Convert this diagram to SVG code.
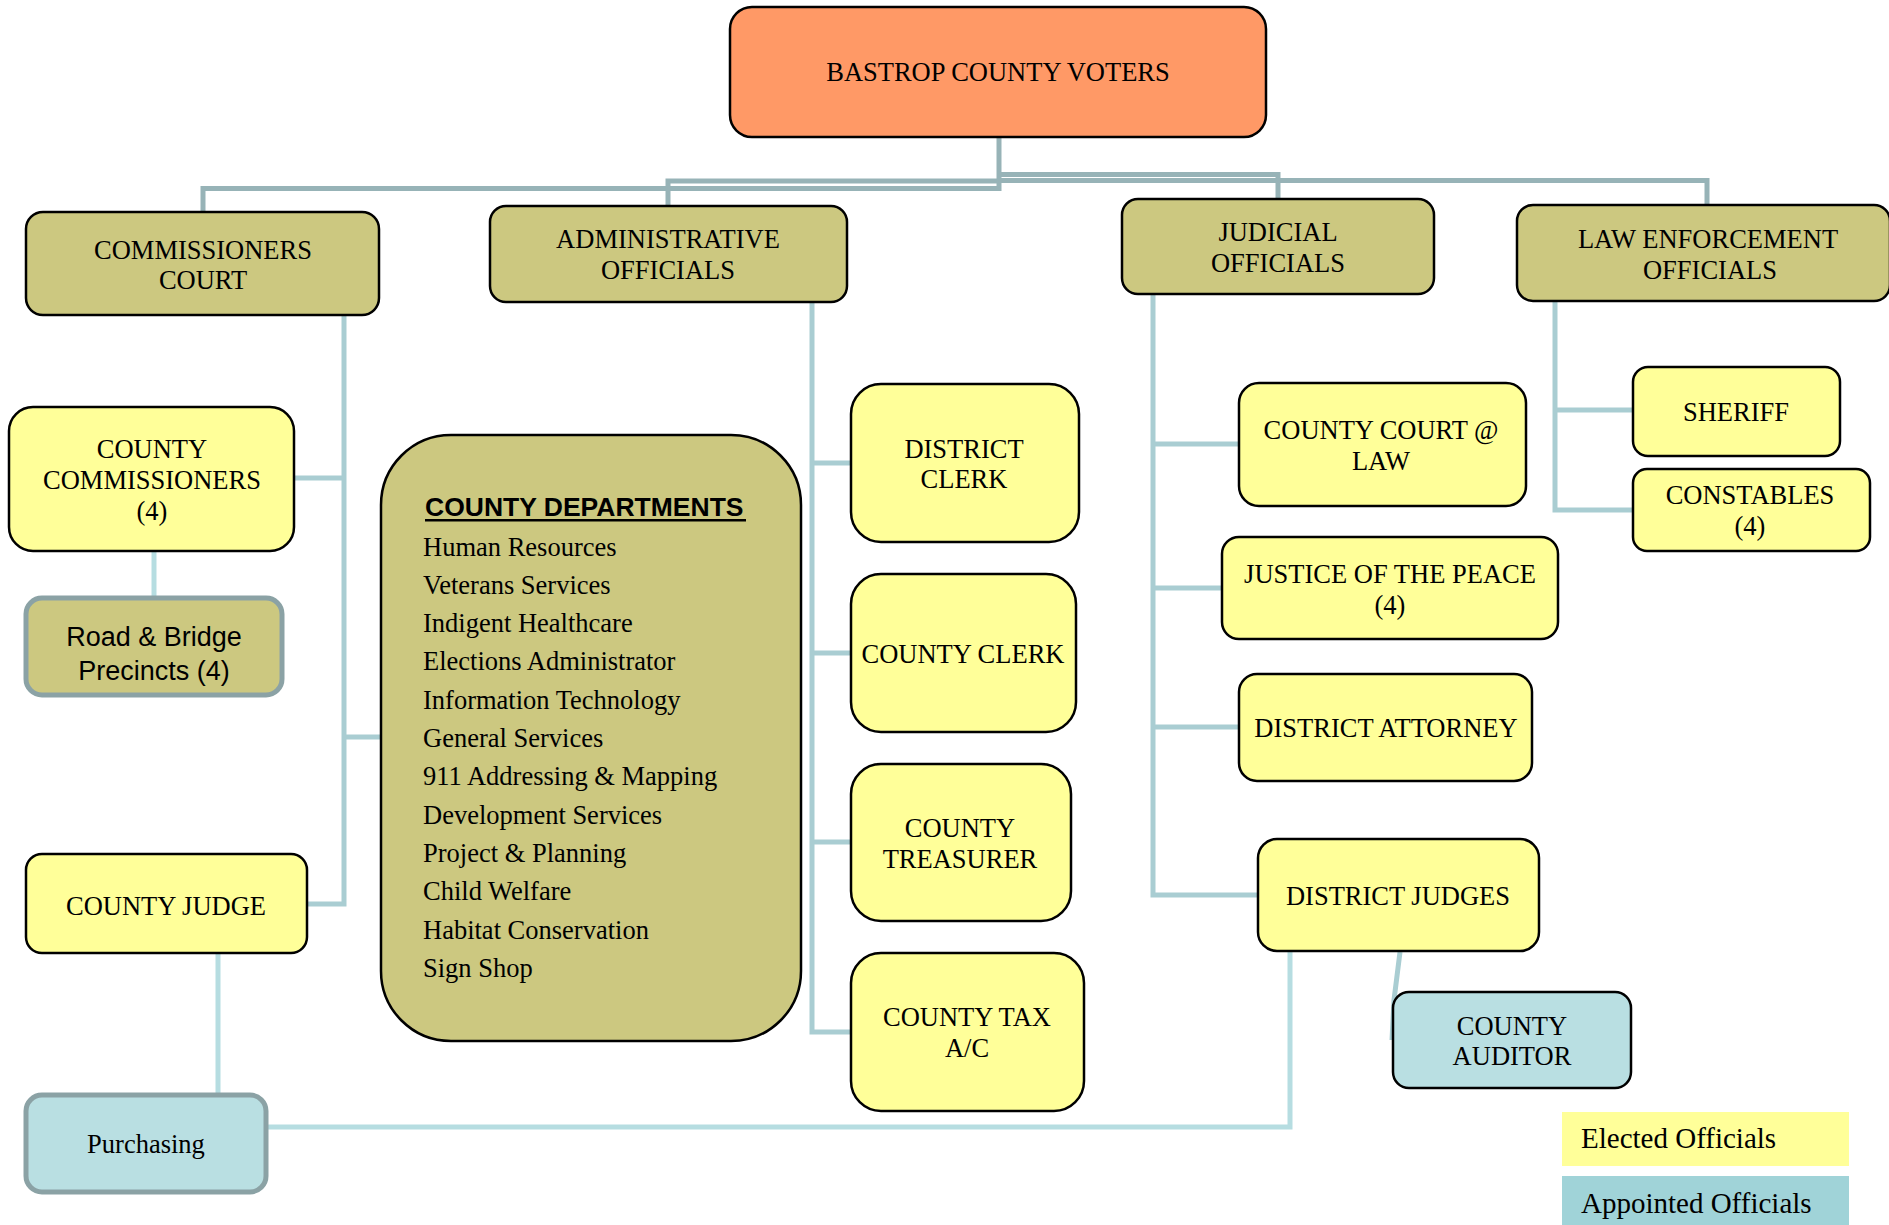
<svg xmlns="http://www.w3.org/2000/svg" width="1889" height="1225" viewBox="0 0 1889 1225">
<style>
.t{font-family:"Liberation Serif","Times New Roman",serif;font-size:26.5px;fill:#000;text-anchor:middle}
.l{font-family:"Liberation Serif","Times New Roman",serif;font-size:26.5px;fill:#000}
.a{font-family:"Liberation Sans",Arial,sans-serif;font-size:27px;fill:#000;text-anchor:middle}
.h{font-family:"Liberation Sans",Arial,sans-serif;font-size:26.5px;font-weight:bold;fill:#000}
.lg{font-family:"Liberation Serif","Times New Roman",serif;font-size:29px;fill:#000}
.y{fill:#FFFF99;stroke:#000;stroke-width:2.5}
.o{fill:#CCC880;stroke:#000;stroke-width:2.5}
.b{fill:#B9DFE2;stroke:#000;stroke-width:2.5}
.top{fill:none;stroke:#97B3B7;stroke-width:5}
.c{fill:none;stroke:#A9CDD2;stroke-width:5}
.c2{fill:none;stroke:#B6DDE1;stroke-width:5}
</style>
<rect width="1889" height="1225" fill="#fff"/>
<g id="connectors">
<path class="top" d="M999,137 V191"/>
<path class="top" d="M203,213 V188.5 H999"/>
<path class="top" d="M668,206 V181 H999"/>
<path class="top" d="M999,174.5 H1278 V199"/>
<path class="top" d="M999,180.5 H1707 V206"/>
<path class="c" d="M344,315 V904 H307"/>
<path class="c" d="M294,478 H344"/>
<path class="c" d="M344,737 H381"/>
<path class="c2" d="M154,551 V598"/>
<path class="c" d="M812,302 V1032 H851"/>
<path class="c" d="M812,463 H851"/>
<path class="c" d="M812,653 H851"/>
<path class="c" d="M812,842 H851"/>
<path class="c" d="M1153,294 V895 H1258"/>
<path class="c" d="M1153,444 H1239"/>
<path class="c" d="M1153,588 H1222"/>
<path class="c" d="M1153,727 H1239"/>
<path class="c" d="M1555,302 V510 H1633"/>
<path class="c" d="M1555,410 H1633"/>
<path class="c2" d="M218,953 V1095"/>
<path class="c2" d="M266,1127 H1290 V952"/>
<path class="c" d="M1400,952 L1394,1000 L1392,1040"/>
</g>
<g id="voters"><rect x="730" y="7" width="536" height="130" rx="22" fill="#FF9966" stroke="#000" stroke-width="2.5"/><text class="t" x="998" y="81">BASTROP COUNTY VOTERS</text></g>
<g id="commissioners-court"><rect class="o" x="26" y="212" width="353" height="103" rx="17"/><text class="t" x="203" y="259">COMMISSIONERS</text><text class="t" x="203" y="289">COURT</text></g>
<g id="administrative-officials"><rect class="o" x="490" y="206" width="357" height="96" rx="16"/><text class="t" x="668" y="248">ADMINISTRATIVE</text><text class="t" x="668" y="279">OFFICIALS</text></g>
<g id="judicial-officials"><rect class="o" x="1122" y="199" width="312" height="95" rx="16"/><text class="t" x="1278" y="241">JUDICIAL</text><text class="t" x="1278" y="272">OFFICIALS</text></g>
<g id="law-enforcement-officials"><rect class="o" x="1517" y="205" width="373" height="96" rx="16"/><text class="t" x="1708" y="248">LAW ENFORCEMENT</text><text class="t" x="1710" y="279">OFFICIALS</text></g>
<g id="county-commissioners"><rect class="y" x="9" y="407" width="285" height="144" rx="24"/><text class="t" x="152" y="458">COUNTY</text><text class="t" x="152" y="489">COMMISSIONERS</text><text class="t" x="152" y="520">(4)</text></g>
<g id="road-bridge"><rect x="26" y="598" width="256" height="97" rx="16" fill="#CCC880" stroke="#8BA2A5" stroke-width="5"/><text class="a" x="154" y="646">Road &amp; Bridge</text><text class="a" x="154" y="680">Precincts (4)</text></g>
<g id="county-departments"><rect class="o" x="381" y="435" width="420" height="606" rx="70"/>
<text class="h" x="425" y="516">COUNTY DEPARTMENTS</text><rect x="425" y="519" width="321" height="2.5" fill="#000"/>
<text class="l" x="423" y="555.5">Human Resources</text>
<text class="l" x="423" y="593.8">Veterans Services</text>
<text class="l" x="423" y="632.1">Indigent Healthcare</text>
<text class="l" x="423" y="670.4">Elections Administrator</text>
<text class="l" x="423" y="708.7">Information Technology</text>
<text class="l" x="423" y="747">General Services</text>
<text class="l" x="423" y="785.3">911 Addressing &amp; Mapping</text>
<text class="l" x="423" y="823.6">Development Services</text>
<text class="l" x="423" y="861.9">Project &amp; Planning</text>
<text class="l" x="423" y="900.2">Child Welfare</text>
<text class="l" x="423" y="938.5">Habitat Conservation</text>
<text class="l" x="423" y="976.8">Sign Shop</text>
</g>
<g id="county-judge"><rect class="y" x="26" y="854" width="281" height="99" rx="16"/><text class="t" x="166" y="915">COUNTY JUDGE</text></g>
<g id="purchasing"><rect x="26" y="1095" width="240" height="97" rx="16" fill="#B9DFE2" stroke="#8BA2A5" stroke-width="5"/><text class="t" x="146" y="1153">Purchasing</text></g>
<g id="district-clerk"><rect class="y" x="851" y="384" width="228" height="158" rx="30"/><text class="t" x="964" y="458">DISTRICT</text><text class="t" x="964" y="488">CLERK</text></g>
<g id="county-clerk"><rect class="y" x="851" y="574" width="225" height="158" rx="30"/><text class="t" x="963" y="663">COUNTY CLERK</text></g>
<g id="county-treasurer"><rect class="y" x="851" y="764" width="220" height="157" rx="30"/><text class="t" x="960" y="837">COUNTY</text><text class="t" x="960" y="868">TREASURER</text></g>
<g id="county-tax"><rect class="y" x="851" y="953" width="233" height="158" rx="30"/><text class="t" x="967" y="1026">COUNTY TAX</text><text class="t" x="967" y="1057">A/C</text></g>
<g id="county-court-law"><rect class="y" x="1239" y="383" width="287" height="123" rx="20"/><text class="t" x="1381" y="439">COUNTY COURT @</text><text class="t" x="1381" y="470">LAW</text></g>
<g id="justice-of-the-peace"><rect class="y" x="1222" y="537" width="336" height="102" rx="17"/><text class="t" x="1390" y="583">JUSTICE OF THE PEACE</text><text class="t" x="1390" y="614">(4)</text></g>
<g id="district-attorney"><rect class="y" x="1239" y="674" width="293" height="107" rx="18"/><text class="t" x="1386" y="737">DISTRICT ATTORNEY</text></g>
<g id="district-judges"><rect class="y" x="1258" y="839" width="281" height="112" rx="19"/><text class="t" x="1398" y="905">DISTRICT JUDGES</text></g>
<g id="county-auditor"><rect class="b" x="1393" y="992" width="238" height="96" rx="16"/><text class="t" x="1512" y="1035">COUNTY</text><text class="t" x="1512" y="1065">AUDITOR</text></g>
<g id="sheriff"><rect class="y" x="1633" y="367" width="207" height="89" rx="15"/><text class="t" x="1736" y="421">SHERIFF</text></g>
<g id="constables"><rect class="y" x="1633" y="469" width="237" height="82" rx="14"/><text class="t" x="1750" y="504">CONSTABLES</text><text class="t" x="1750" y="535">(4)</text></g>
<g id="legend">
<rect x="1562" y="1112" width="287" height="54" fill="#FFFF99"/><text class="lg" x="1581" y="1148">Elected Officials</text>
<rect x="1562" y="1176" width="287" height="49" fill="#A0D3D8"/><text class="lg" x="1581" y="1213">Appointed Officials</text>
</g>
</svg>
